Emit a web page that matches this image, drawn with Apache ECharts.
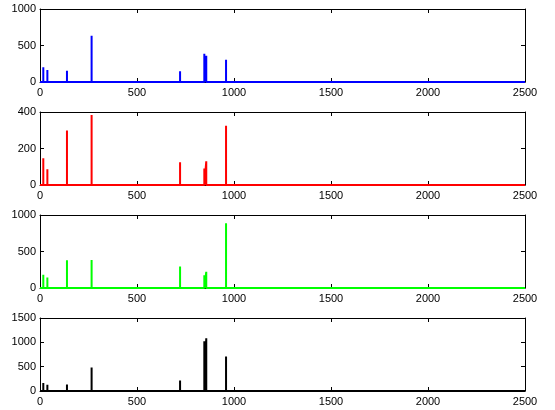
<!DOCTYPE html>
<html>
<head>
<meta charset="utf-8">
<script src="https://cdn.jsdelivr.net/npm/echarts@6/dist/echarts.min.js"></script>
<style>html,body{margin:0;padding:0;background:#fff;}#c{width:555px;height:410px;}</style>
</head>
<body>
<div id="c"></div>
<script>
// Spike positions (x values) shared by all four panels
var spikeX = [17, 38, 139, 266, 722, 847, 857, 959];
// Spike heights per panel
var blueVals  = [201, 164, 155, 635, 146, 388, 361, 306];
var redVals   = [146, 86, 298, 384, 124, 91, 130, 325];
var greenVals = [181, 145, 380, 385, 294, 176, 222, 887];
var blackVals = [164, 130, 136, 484, 218, 1023, 1084, 709];
// Axis ranges
var xMax = 2500, xStep = 500;
var yMaxs  = [1000, 400, 1000, 1500];
var ySteps = [500, 200, 500, 500];
var colors = ['#0000ff', '#ff0000', '#00ff00', '#000000'];
var seriesVals = [blueVals, redVals, greenVals, blackVals];

function buildLine(vals) {
  var d = [[0, 0]];
  for (var i = 0; i < spikeX.length; i++) {
    d.push([spikeX[i], 0]);
    d.push([spikeX[i], vals[i]]);
    d.push([spikeX[i], 0]);
  }
  d.push([xMax, 0]);
  return d;
}

var tops = [9, 112, 215, 318];
var fmt = function (v) { return String(v); };
var font = {fontFamily: 'Liberation Sans, Arial, sans-serif', fontSize: 11, color: '#000', formatter: fmt};
var grids = [], xAxes = [], yAxes = [], series = [];
for (var k = 0; k < 4; k++) {
  grids.push({left: 40, right: 30, top: tops[k], height: 73, containLabel: false});
  var lineSty = {show: true, onZero: false, lineStyle: {color: '#000', width: 1}};
  var tickSty = {show: true, inside: true, length: 4, lineStyle: {color: '#000', width: 1}};
  xAxes.push({type: 'value', gridIndex: k, min: 0, max: xMax, interval: xStep, position: 'bottom',
    axisLine: lineSty, axisTick: tickSty, splitLine: {show: false},
    axisLabel: Object.assign({margin: 5}, font)});
  xAxes.push({type: 'value', gridIndex: k, min: 0, max: xMax, interval: xStep, position: 'top',
    axisLine: lineSty, axisTick: tickSty, splitLine: {show: false}, axisLabel: {show: false}});
  yAxes.push({type: 'value', gridIndex: k, min: 0, max: yMaxs[k], interval: ySteps[k], position: 'left',
    axisLine: lineSty, axisTick: tickSty, splitLine: {show: false},
    axisLabel: Object.assign({margin: 4}, font)});
  yAxes.push({type: 'value', gridIndex: k, min: 0, max: yMaxs[k], interval: ySteps[k], position: 'right',
    axisLine: lineSty, axisTick: tickSty, splitLine: {show: false}, axisLabel: {show: false}});
  series.push({type: 'line', xAxisIndex: 2 * k, yAxisIndex: 2 * k, data: buildLine(seriesVals[k]),
    showSymbol: false, symbol: 'none', clip: false, animation: false, z: 5,
    lineStyle: {color: colors[k], width: 2, join: 'bevel'}});
}

var chart = echarts.init(document.getElementById('c'), null, {renderer: 'canvas'});
chart.setOption({animation: false, backgroundColor: '#fff', grid: grids, xAxis: xAxes, yAxis: yAxes, series: series});
</script>
</body>
</html>
